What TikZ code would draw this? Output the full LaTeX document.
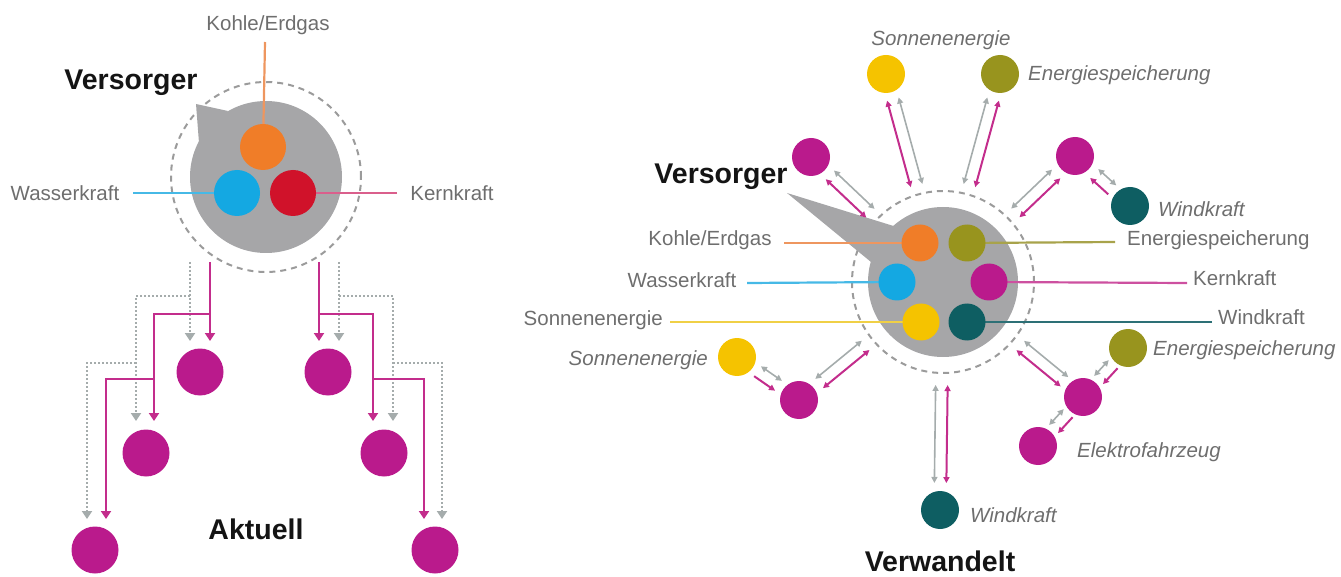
\documentclass[tikz,border=0pt]{standalone}
\usepackage{fontspec}
\setmainfont{Liberation Sans}
\usetikzlibrary{calc,arrows.meta}
\definecolor{cgray}{RGB}{166,166,168}
\definecolor{dgray}{RGB}{155,155,155}
\definecolor{txtgray}{RGB}{110,110,110}
\definecolor{corange}{RGB}{240,125,40}
\definecolor{cblue}{RGB}{20,168,226}
\definecolor{cred}{RGB}{208,18,42}
\definecolor{cmag}{RGB}{186,26,140}
\definecolor{colive}{RGB}{152,148,30}
\definecolor{cteal}{RGB}{14,94,98}
\definecolor{cyellow}{RGB}{245,195,0}
\definecolor{amag}{RGB}{195,45,140}
\definecolor{agray}{RGB}{165,172,172}
\definecolor{lorange}{RGB}{238,150,95}
\definecolor{lblue}{RGB}{70,185,230}
\definecolor{lpink}{RGB}{218,95,140}
\definecolor{lyellow}{RGB}{240,208,70}
\definecolor{lolive}{RGB}{168,163,75}
\definecolor{lmag}{RGB}{205,80,160}
\definecolor{lteal}{RGB}{45,112,118}
\newcommand{\twoway}[7]{%
  \draw[rmagline,#7] ($(#1.center)!#3!(#2.center)!6pt!#5:(#2.center)$) -- ($(#2.center)!#4!(#1.center)!6pt!#6:(#1.center)$);
  \draw[rgrayline] ($(#1.center)!#3!(#2.center)!6pt!#6:(#2.center)$) -- ($(#2.center)!#4!(#1.center)!6pt!#5:(#1.center)$);
}
\begin{document}
\begin{tikzpicture}[x=1pt,y=-1pt,
  dot/.style={circle,inner sep=0pt,minimum size=#1},
  dashring/.style={draw=dgray,line width=2pt,dash pattern=on 6pt off 5pt},
  lbl/.style={text=txtgray,font=\fontsize{20.5}{24}\selectfont,inner sep=0pt},
  ilbl/.style={text=txtgray,font=\fontsize{20.5}{24}\selectfont\itshape,inner sep=0pt},
  ttl/.style={text=black!92,font=\fontsize{28.5}{32}\selectfont\bfseries,inner sep=0pt},
  srcline/.style={line width=2.2pt},
  treemag/.style={draw=amag,line width=2.2pt,-{Triangle[length=8pt,width=10pt]}},
  treegray/.style={draw=agray,line width=2pt,dash pattern=on 2pt off 2pt,-{Triangle[length=8pt,width=10pt]}},
  rmagline/.style={draw=amag,line width=2pt},
  rgrayline/.style={draw=agray,line width=1.6pt,{Triangle[length=6pt,width=6pt]}-{Triangle[length=6pt,width=6pt]}},
  bi/.style={{Triangle[length=6pt,width=6pt]}-{Triangle[length=6pt,width=6pt]}},
  uni/.style={-{Triangle[length=6pt,width=6pt]}}
]
\useasboundingbox (0,0) rectangle (1341,577);

% ---------------- LEFT: Aktuell ----------------
\node[dot=190pt,dashring] (ldash) at (266,177) {};
\fill[cgray] (196,104) -- (228,111) -- (199,143) -- cycle;
\node[dot=152pt,fill=cgray] (lv) at (266,177) {};

\coordinate (lko) at (265,42);
\coordinate (lwa) at (133,193);
\coordinate (lke) at (397,193);
\draw[srcline,lorange] (lko) -- (263,147);
\draw[srcline,lblue] (lwa) -- (237,193);
\draw[srcline,lpink] (lke) -- (293,193);

\node[dot=46pt,fill=corange] (lo) at (263,147) {};
\node[dot=46pt,fill=cblue] (lb) at (237,193) {};
\node[dot=46pt,fill=cred] (lr) at (293,193) {};

\node[dot=47pt,fill=cmag] (l1) at (200,372) {};
\node[dot=47pt,fill=cmag] (l2) at (146,453) {};
\node[dot=47pt,fill=cmag] (l3) at (95,550) {};
\node[dot=47pt,fill=cmag] (r1) at (328,372) {};
\node[dot=47pt,fill=cmag] (r2) at (384,453) {};
\node[dot=47pt,fill=cmag] (r3) at (435,550) {};

% tree connectors
\coordinate (lm0) at (210,262);
\coordinate (lg0) at (190,262);
\coordinate (rm0) at (319,262);
\coordinate (rg0) at (339,262);
\draw[treegray] (lg0) -- (190,341);
\draw[treegray] (190,296) -| (136,421);
\draw[treegray] (136,363) -| (87,519);
\draw[treemag] (lm0) -- (210,341);
\draw[treemag] (210,314) -| (154,421);
\draw[treemag] (154,379) -| (106,519);
\draw[treegray] (rg0) -- (339,341);
\draw[treegray] (339,296) -| (393,421);
\draw[treegray] (393,363) -| (442,519);
\draw[treemag] (rm0) -- (319,341);
\draw[treemag] (319,314) -| (373,421);
\draw[treemag] (373,379) -| (424,519);

\node[lbl] (tko) at (268,25) {Kohle/Erdgas};
\node[lbl] (twa) at (65,193) {Wasserkraft};
\node[lbl] (tke) at (452,193) {Kernkraft};
\node[ttl] (tv1) at (131,83) {Versorger};
\node[ttl] (tak) at (256,529) {Aktuell};

% ---------------- RIGHT: Verwandelt ----------------
\node[dot=182pt,dashring] (rdash) at (943,282) {};
\fill[cgray] (787,193) -- (900,228) -- (871,262) -- cycle;
\node[dot=150pt,fill=cgray] (rc) at (943,282) {};

\coordinate (rko) at (784,243);
\coordinate (rwa) at (747,283);
\coordinate (rso) at (670,322);
\coordinate (ren) at (1115,242);
\coordinate (rke) at (1187,283);
\coordinate (rwi) at (1212,322);
\draw[srcline,lorange] (rko) -- (920,243);
\draw[srcline,lblue] (rwa) -- (897,282);
\draw[srcline,lyellow] (rso) -- (921,322);
\draw[srcline,lolive] (ren) -- (967,243);
\draw[srcline,lmag] (rke) -- (989,282);
\draw[srcline,lteal] (rwi) -- (967,322);

\node[dot=37pt,fill=corange] (co) at (920,243) {};
\node[dot=37pt,fill=colive] (cl) at (967,243) {};
\node[dot=37pt,fill=cblue] (cb) at (897,282) {};
\node[dot=37pt,fill=cmag] (cm) at (989,282) {};
\node[dot=37pt,fill=cyellow] (cy) at (921,322) {};
\node[dot=37pt,fill=cteal] (ct) at (967,322) {};

% outer nodes
\node[dot=38pt,fill=cyellow] (ty) at (886,74) {};
\node[dot=38pt,fill=colive] (to) at (1000,74) {};
\node[dot=38pt,fill=cmag] (tlm) at (811,157) {};
\node[dot=38pt,fill=cmag] (trm) at (1075,156) {};
\node[dot=38pt,fill=cteal] (tw) at (1130,206) {};
\node[dot=38pt,fill=cyellow] (ly) at (737,357) {};
\node[dot=38pt,fill=cmag] (blm) at (799,400) {};
\node[dot=38pt,fill=cteal] (bw) at (940,510) {};
\node[dot=38pt,fill=colive] (ro) at (1128,348) {};
\node[dot=38pt,fill=cmag] (rm) at (1083,397) {};
\node[dot=38pt,fill=cmag] (lrm) at (1038,446) {};

% connectors
\twoway{ty}{rc}{26pt}{100pt}{-90}{90}{bi}
\twoway{to}{rc}{26pt}{100pt}{90}{-90}{bi}
\twoway{tlm}{rc}{26pt}{100pt}{-90}{90}{bi}
\twoway{trm}{rc}{26pt}{100pt}{90}{-90}{bi}
\twoway{blm}{rc}{26pt}{100pt}{-90}{90}{bi}
\twoway{bw}{rc}{27pt}{103pt}{-90}{90}{bi}
\twoway{rm}{rc}{24pt}{100pt}{90}{-90}{bi}
\twoway{tw}{trm}{24pt}{26pt}{90}{-90}{uni}
\twoway{ly}{blm}{25pt}{25pt}{-90}{90}{uni}
\twoway{ro}{rm}{22pt}{23pt}{90}{-90}{uni}
\twoway{rm}{lrm}{22pt}{23pt}{90}{-90}{uni}

% labels
\node[lbl] (uko) at (710,240) {Kohle/Erdgas};
\node[lbl] (uwa) at (682,280) {Wasserkraft};
\node[lbl,anchor=east] (uso) at (663,320) {Sonnenenergie};
\node[lbl,anchor=west] (uen) at (1127,240) {Energiespeicherung};
\node[lbl,anchor=west] (uke) at (1193,278) {Kernkraft};
\node[lbl,anchor=west] (uwi) at (1218,317) {Windkraft};

\node[ilbl] (iso1) at (941,40) {Sonnenenergie};
\node[ilbl,anchor=west] (ien1) at (1028,75) {Energiespeicherung};
\node[ilbl,anchor=west] (iwi1) at (1158,209) {Windkraft};
\node[ilbl,anchor=east] (iso2) at (708,360) {Sonnenenergie};
\node[ilbl,anchor=west] (ien2) at (1153,350) {Energiespeicherung};
\node[ilbl,anchor=west] (iel) at (1077,452) {Elektrofahrzeug};
\node[ilbl,anchor=west] (iwi2) at (970,515) {Windkraft};

\node[ttl] (tv2) at (721,177) {Versorger};
\node[ttl] (tvw) at (940,561) {Verwandelt};
\end{tikzpicture}
\end{document}
